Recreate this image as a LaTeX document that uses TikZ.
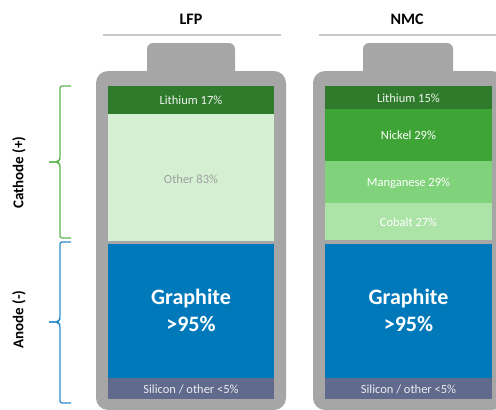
\documentclass[tikz,border=0pt]{standalone}
\usepackage{fontspec}
\setmainfont{Carlito}
\definecolor{bodygrey}{HTML}{A6A6A6}
\definecolor{lineg}{HTML}{C8C8C8}
\definecolor{lith}{HTML}{2F7A2B}
\definecolor{other}{HTML}{D4EFD1}
\definecolor{othertxt}{HTML}{A0A0A0}
\definecolor{nickel}{HTML}{3DA435}
\definecolor{mang}{HTML}{80D37B}
\definecolor{cobalt}{HTML}{ACE3A6}
\definecolor{graph}{HTML}{0079BB}
\definecolor{silic}{HTML}{5F6A8C}
\definecolor{brgreen}{HTML}{5BB44F}
\definecolor{brblue}{HTML}{2A8AC8}
\begin{document}
\begin{tikzpicture}[x=1pt,y=-1pt,
  lbl/.style={font=\fontsize{12.5}{14}\selectfont, text=white, inner sep=0pt},
  big/.style={font=\fontsize{22}{26}\selectfont\bfseries, text=white, inner sep=0pt, anchor=base},
  ttl/.style={font=\fontsize{16}{18}\selectfont\bfseries, inner sep=0pt},
  side/.style={font=\fontsize{15}{18}\selectfont\bfseries, inner sep=0pt, rotate=90},
  brace/.style={line width=1.2pt, rounded corners=2pt}]
\useasboundingbox (0,0) rectangle (496,410);
\clip (0,0) rectangle (496,410);
% titles
\node[ttl] (tlfp) at (191,19) {LFP};
\node[ttl] (tnmc) at (407,19) {NMC};
\draw[lineg, line width=2pt] (103,35) -- (281,35);
\draw[lineg, line width=2pt] (319,35) -- (500,35);
% side labels
\node[side] (cath) at (19,172.5) {Cathode (+)};
\node[side] (anod) at (19,319.5) {Anode (-)};
% braces
\draw[brace, brgreen] (71,86) -- (60,86) -- (60,159) -- (58,162) -- (49,162);
\draw[brace, brgreen] (49,162) -- (58,162) -- (60,165) -- (60,238) -- (71,238);
\draw[brace, brblue] (71,242) -- (60,242) -- (60,319) -- (58,322) -- (49,322);
\draw[brace, brblue] (49,322) -- (58,322) -- (60,325) -- (60,403) -- (71,403);
% LFP battery
\fill[bodygrey, rounded corners=6pt] (147,43) rectangle (235,80);
\fill[bodygrey, rounded corners=12pt] (96,71) rectangle (286,410);
\fill[lith] (108,86) rectangle (274,114);
\fill[other] (108,114) rectangle (274,241);
\fill[graph] (108,244) rectangle (274,378);
\fill[silic] (108,378) rectangle (274,399);
\node[lbl, text=white!92!lith] (l1) at (191,100.5) {Lithium 17\%};
\node[lbl, text=othertxt] (l2) at (191,179) {Other 83\%};
\node[big] (g1) at (191,304) {Graphite};
\node[big] (g2) at (191,331) {>95\%};
\node[lbl, text=white!88!silic] (s1) at (191,389) {Silicon / other <5\%};
% NMC battery
\fill[bodygrey, rounded corners=6pt] (363,43) rectangle (453,80);
\fill[bodygrey, rounded corners=12pt] (313,71) rectangle (504,410);
\fill[lith] (325,86) rectangle (492,109);
\fill[nickel] (325,109) rectangle (492,161);
\fill[mang] (325,161) rectangle (492,203);
\fill[cobalt] (325,203) rectangle (492,240);
\fill[graph] (325,244) rectangle (492,378);
\fill[silic] (325,378) rectangle (492,399);
\node[lbl, text=white!92!lith] (n1) at (408.5,98.5) {Lithium 15\%};
\node[lbl] (n2) at (408.5,135) {Nickel 29\%};
\node[lbl] (n3) at (408.5,183) {Manganese 29\%};
\node[lbl] (n4) at (408.5,222.5) {Cobalt 27\%};
\node[big] (g3) at (408.5,304) {Graphite};
\node[big] (g4) at (408.5,331) {>95\%};
\node[lbl, text=white!88!silic] (s2) at (408.5,389) {Silicon / other <5\%};
\end{tikzpicture}
\end{document}
